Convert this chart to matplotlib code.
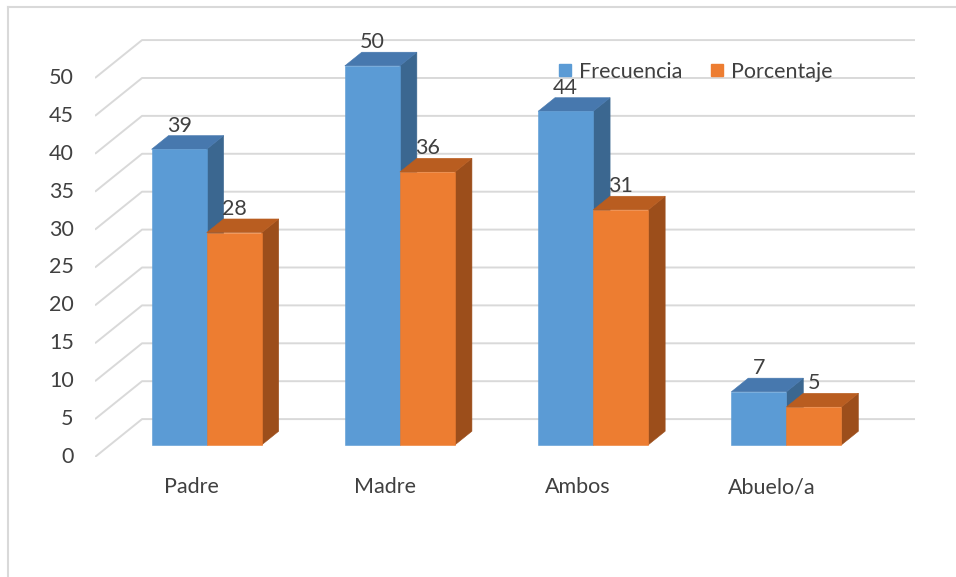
import matplotlib.pyplot as plt
from matplotlib.patches import Polygon
from matplotlib.lines import Line2D

categories = ['Padre', 'Madre', 'Ambos', 'Abuelo/a']
frecuencia = [39, 50, 44, 7]
porcentaje = [28, 36, 31, 5]
series_names = ['Frecuencia', 'Porcentaje']
yticks = [0, 5, 10, 15, 20, 25, 30, 35, 40, 45, 50]

plt.rcParams['font.family'] = ['Lato', 'DejaVu Sans']
TEXT = '#404040'
GRID = '#D9D9D9'
FS = 15.5

# front / top / side face colours for each series
faces = [('#5B9BD5', '#4778AE', '#3B6790'),
         ('#ED7D31', '#B95D20', '#9C4E1B')]

W, H = 956, 577
fig = plt.figure(figsize=(W / 100, H / 100), dpi=100)

# oblique depth of the floor in data units, bar depth span and bar width
DX, DY = 0.2435, 5.0
D0, D1 = 0.32, 0.68
BW = 0.285

ax = fig.add_axes([95 / W, (H - 457) / H, 820 / W, 424.5 / H])
ax.set_xlim(0, len(categories) + DX)
ax.set_ylim(0, 56)
ax.axis('off')

# back wall gridlines with their diagonal on the side
for v in yticks:
    ax.plot([0, DX, len(categories) + DX], [v, v + DY, v + DY],
            color=GRID, lw=1.4, zorder=0, solid_capstyle='butt')
    ax.text(-0.11, v, str(v), ha='right', va='center', fontsize=FS,
            color=TEXT)


def bar3d(x0, v, cols):
    ox, oy = D0 * DX, D0 * DY
    bx, by = D1 * DX, D1 * DY
    front = [(x0 + ox, oy), (x0 + BW + ox, oy),
             (x0 + BW + ox, v + oy), (x0 + ox, v + oy)]
    top = [(x0 + ox, v + oy), (x0 + BW + ox, v + oy),
           (x0 + BW + bx, v + by), (x0 + bx, v + by)]
    side = [(x0 + BW + ox, oy), (x0 + BW + bx, by),
            (x0 + BW + bx, v + by), (x0 + BW + ox, v + oy)]
    for pts, c in ((side, cols[2]), (top, cols[1]), (front, cols[0])):
        ax.add_patch(Polygon(pts, closed=True, facecolor=c, edgecolor=c,
                             lw=0.4, zorder=2))
    ax.annotate(str(v), (x0 + ox + BW / 2, v + by), xytext=(0, 0),
                textcoords='offset points', ha='center', va='bottom',
                fontsize=FS, color=TEXT, zorder=3)


for i, cat in enumerate(categories):
    c = i + 0.5
    bar3d(c - BW, frecuencia[i], faces[0])
    bar3d(c, porcentaje[i], faces[1])
    ax.text(c, -4.0, cat, ha='center', va='center', fontsize=FS,
            color=TEXT)

handles = [Line2D([], [], ls='none', marker='s', markersize=9,
                  markerfacecolor=f[0], markeredgecolor=f[0])
           for f in faces]
fig.legend(handles, series_names, loc='center', ncol=2, frameon=False,
           bbox_to_anchor=(695 / W, 1 - 72 / H), fontsize=FS,
           handlelength=0.7, handletextpad=0.3, columnspacing=1.3,
           labelcolor=TEXT)

# chart area border (top and left edges)
fig.add_artist(Line2D([8 / W, 8 / W], [0, 1 - 7 / H], color=GRID, lw=1.5))
fig.add_artist(Line2D([8 / W, 1], [1 - 7 / H, 1 - 7 / H], color=GRID,
                      lw=1.5))

fig.savefig('out.png', dpi=100)
